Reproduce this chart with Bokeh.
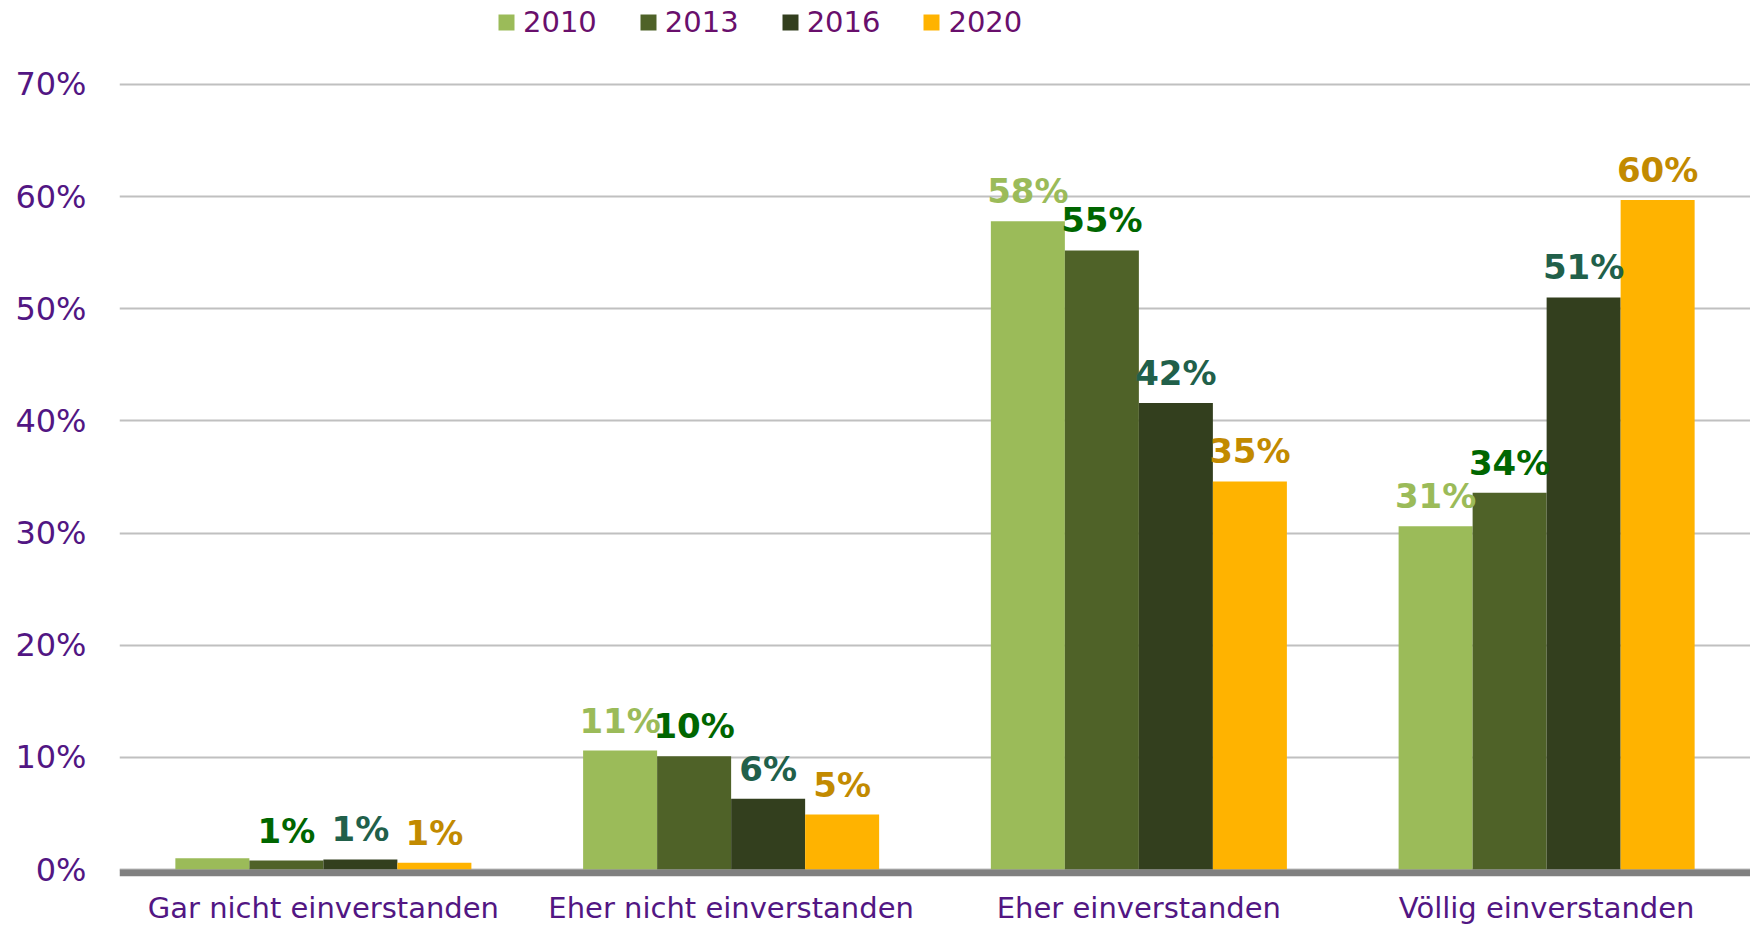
from bokeh.plotting import figure
from bokeh.models import (ColumnDataSource, Range1d, FactorRange, FixedTicker,
                          NumeralTickFormatter, LabelSet, BoxAnnotation, Legend, LegendItem)
from bokeh.core.properties import value
from bokeh.transform import dodge
from bokeh.embed import file_html
from bokeh.resources import INLINE

categories = ["Gar nicht einverstanden", "Eher nicht einverstanden",
              "Eher einverstanden", "Völlig einverstanden"]
years = ["2010", "2013", "2016", "2020"]
v2010 = [0.010, 0.106, 0.578, 0.306]
v2013 = [0.008, 0.101, 0.552, 0.336]
v2016 = [0.009, 0.063, 0.416, 0.510]
v2020 = [0.006, 0.049, 0.346, 0.597]
show2010 = [False, True, True, True]
show_other = [True, True, True, True]
y_ticks = [0.0, 0.1, 0.2, 0.3, 0.4, 0.5, 0.6, 0.7]

bar_colors = ["#9BBB59", "#4F6228", "#333F1E", "#FFB300"]
label_colors = ["#9BBB59", "#006600", "#21604A", "#C28A00"]
series = [v2010, v2013, v2016, v2020]
shows = [show2010, show_other, show_other, show_other]

FONT = "DejaVu Sans"
AXIS_COLOR = "#521683"
LEGEND_COLOR = "#690F6C"

p = figure(width=1750, height=927, x_range=FactorRange(factors=categories),
           y_range=Range1d(-0.00623, 0.77478), output_backend="svg",
           toolbar_location=None, min_border_left=119, min_border_right=0,
           min_border_top=0, min_border_bottom=50)
p.outline_line_color = None
p.background_fill_color = "white"

bw = 0.1815
offsets = [-1.5 * bw, -0.5 * bw, 0.5 * bw, 1.5 * bw]
renderers = []
for yr, vals, show, off, bc, lc in zip(years, series, shows, offsets, bar_colors, label_colors):
    src = ColumnDataSource(dict(
        cat=categories, val=vals,
        lbl=[f"{round(v * 100)}%" if s else "" for v, s in zip(vals, show)]))
    r = p.vbar(x=dodge("cat", off, range=p.x_range), top="val", bottom=0, width=bw,
               source=src, fill_color=bc, line_color=None)
    renderers.append((yr, r))
    labels = LabelSet(x=dodge("cat", off, range=p.x_range), y="val", text="lbl", source=src,
                      text_align="center", text_baseline="alphabetic", y_offset=18,
                      text_font=value(FONT), text_font_style="bold",
                      text_font_size=value("34px"), text_color=lc)
    p.add_layout(labels)

p.add_layout(BoxAnnotation(bottom=-0.00623, top=0, fill_color="#808080", fill_alpha=1,
                           line_color=None))

p.xgrid.grid_line_color = None
p.ygrid.grid_line_color = "#C0C0C0"
p.ygrid.grid_line_width = 2
p.ygrid.ticker = FixedTicker(ticks=y_ticks)

p.yaxis.ticker = FixedTicker(ticks=y_ticks)
p.yaxis.formatter = NumeralTickFormatter(format="0%")
p.yaxis.axis_line_color = None
p.yaxis.major_tick_line_color = None
p.yaxis.minor_tick_line_color = None
p.yaxis.major_tick_out = 0
p.yaxis.major_tick_in = 0
p.yaxis.major_label_standoff = 33
p.yaxis.major_label_text_font = FONT
p.yaxis.major_label_text_font_size = "32px"
p.yaxis.major_label_text_color = AXIS_COLOR

p.xaxis.axis_line_color = None
p.xaxis.major_tick_line_color = None
p.xaxis.major_tick_out = 0
p.xaxis.major_tick_in = 0
p.xaxis.major_label_standoff = 14
p.xaxis.major_label_text_font = FONT
p.xaxis.major_label_text_font_size = "29px"
p.xaxis.major_label_text_color = AXIS_COLOR

legend = Legend(items=[LegendItem(label=yr, renderers=[r]) for yr, r in renderers],
                orientation="horizontal", location=(377, 837),
                label_text_font=FONT, label_text_font_size="29px",
                label_text_color=LEGEND_COLOR, glyph_width=20, glyph_height=20,
                label_standoff=7, spacing=41, padding=0, margin=0,
                border_line_color=None, background_fill_alpha=0)
p.add_layout(legend, "center")

open("out.html", "w").write(file_html(p, INLINE))
